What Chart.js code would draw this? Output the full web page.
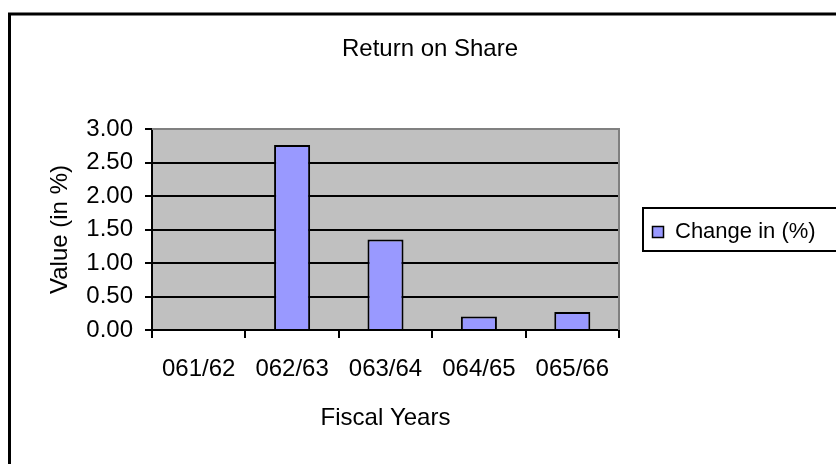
<!DOCTYPE html>
<html>
<head>
<meta charset="utf-8">
<title>Return on Share</title>
<script src="https://cdn.jsdelivr.net/npm/chart.js@4.4.0/dist/chart.umd.min.js"></script>
<style>
  html, body { margin: 0; padding: 0; background: #fff; }
  #returnChart { display: block; }
</style>
</head>
<body>
<canvas id="returnChart" width="836" height="464"></canvas>
<script>
const fiscalYears = ['061/62', '062/63', '063/64', '064/65', '065/66'];
const changePct = [0, 2.76, 1.35, 0.2, 0.27];
const yTicks = [0, 0.5, 1, 1.5, 2, 2.5, 3];
const chartTitle = 'Return on Share';
const seriesName = 'Change in (%)';
const xTitle = 'Fiscal Years';
const yTitle = 'Value (in %)';

const FONT = 'Arial, "Liberation Sans", sans-serif';

// excel style frame: outer border, grey plot area, title and boxed legend
const framePlugin = {
  id: 'frame',
  beforeDraw(chart) {
    const { ctx, chartArea: a } = chart;
    ctx.save();
    ctx.fillStyle = '#fff';
    ctx.fillRect(0, 0, chart.width, chart.height);
    ctx.fillStyle = '#C0C0C0';
    ctx.fillRect(a.left, a.top, a.right - a.left, a.bottom - a.top);
    ctx.restore();
  },
  beforeDatasetsDraw(chart) {
    const { ctx, chartArea: a } = chart;
    ctx.save();
    ctx.strokeStyle = '#808080';
    ctx.lineWidth = 2;
    ctx.beginPath();
    ctx.moveTo(a.left, a.top);
    ctx.lineTo(a.right, a.top);
    ctx.lineTo(a.right, a.bottom);
    ctx.stroke();
    ctx.restore();
  },
  afterDraw(chart) {
    const { ctx } = chart;
    const ds = chart.data.datasets[0];
    ctx.save();
    // outer border, runs off the right and bottom edge like the screenshot
    ctx.strokeStyle = '#000';
    ctx.lineWidth = 3;
    ctx.strokeRect(9.5, 14, 900, 500);

    ctx.fillStyle = '#000';
    ctx.font = '24px ' + FONT;
    ctx.textAlign = 'center';
    ctx.textBaseline = 'alphabetic';
    ctx.fillText(chartTitle, 430, 56);

    // legend box
    ctx.lineWidth = 2;
    ctx.strokeRect(643, 208, 300, 43);
    ctx.fillStyle = ds.backgroundColor;
    ctx.fillRect(652, 226, 12, 12);
    ctx.lineWidth = 1.5;
    ctx.strokeRect(652.5, 226.5, 11, 11);
    ctx.fillStyle = '#000';
    ctx.font = '22px ' + FONT;
    ctx.textAlign = 'left';
    ctx.fillText(ds.label, 675, 238);
    ctx.restore();
  }
};

const axisFont = { size: 24, family: FONT };

new Chart(document.getElementById('returnChart'), {
  type: 'bar',
  data: {
    labels: fiscalYears,
    datasets: [{
      label: seriesName,
      data: changePct,
      backgroundColor: '#9999FF',
      borderColor: '#000',
      borderWidth: 2,
      barPercentage: 0.386,
      categoryPercentage: 1
    }]
  },
  options: {
    responsive: false,
    animation: false,
    devicePixelRatio: 1,
    layout: { padding: { top: 129, left: 0, right: 217, bottom: 0 } },
    plugins: {
      legend: { display: false },
      title: { display: false },
      tooltip: { enabled: false }
    },
    scales: {
      x: {
        afterFit: s => { s.height = 134; },
        ticks: { font: axisFont, color: '#000', padding: 17, maxRotation: 0, autoSkip: false },
        grid: { drawOnChartArea: false, color: '#000', tickColor: '#000', lineWidth: 2, tickLength: 8 },
        border: { color: '#000', width: 2 },
        title: { display: true, text: xTitle, font: axisFont, color: '#000', padding: { top: 0, bottom: 31.6 } }
      },
      y: {
        min: 0,
        max: 3,
        afterBuildTicks: s => { s.ticks = yTicks.map(v => ({ value: v })); },
        afterFit: s => { s.width = 152; },
        ticks: { font: axisFont, color: '#000', padding: 12, callback: v => Number(v).toFixed(2) },
        grid: {
          color: c => (c.tick && c.tick.value === 3) ? 'rgba(0,0,0,0)' : '#000',
          tickColor: '#000',
          lineWidth: 2,
          tickLength: 7
        },
        border: { color: '#000', width: 2 },
        title: { display: true, text: yTitle, font: axisFont, color: '#000', padding: { top: 45.6, bottom: 0 } }
      }
    }
  },
  plugins: [framePlugin]
});
</script>
</body>
</html>
